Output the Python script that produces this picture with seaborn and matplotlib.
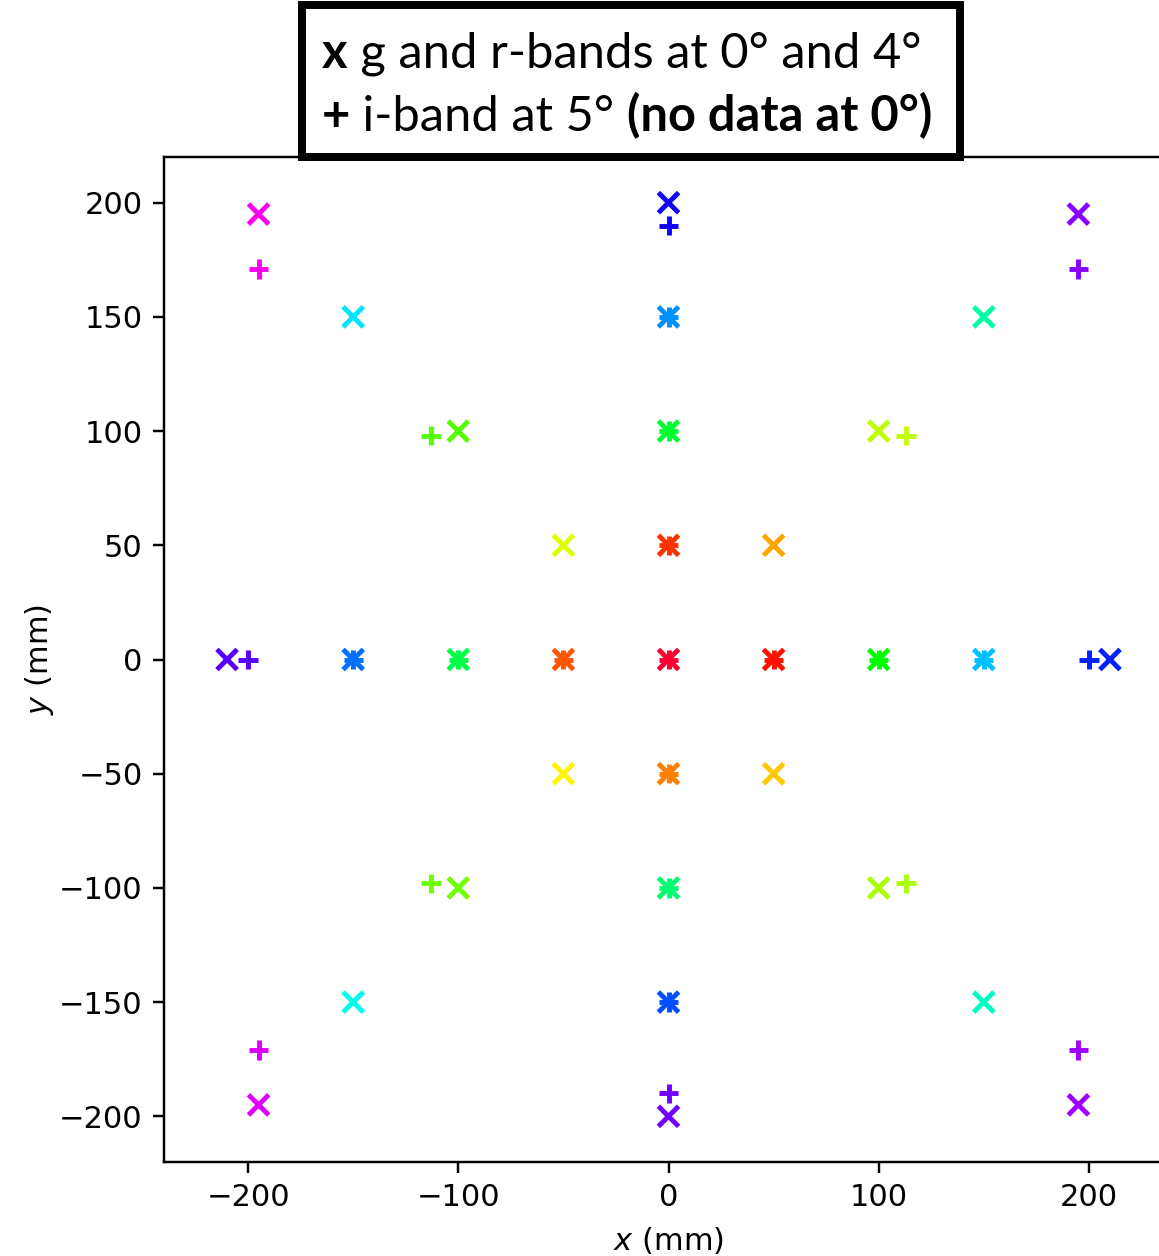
import numpy as np
import pandas as pd
import matplotlib
matplotlib.use("Agg")
import matplotlib.pyplot as plt
import seaborn as sns
from matplotlib.patches import Rectangle

# g/r-band field positions (x markers)
gr_x = [0, 50, 0, -50, 0, 50, 50, -50, -50, 100, 100, -100, -100, 100, 0, -100, 0,
        150, 150, -150, -150, 150, 0, -150, 0, 210, 0, -210, 0, 195, 195, -195, -195]
gr_y = [0, 0, 50, 0, -50, 50, -50, -50, 50, 100, -100, -100, 100, 0, 100, 0, -100,
        150, -150, -150, 150, 0, 150, 0, -150, 0, 200, 0, -200, 195, -195, -195, 195]
# i-band field positions (+ markers)
i_x = [0, 50, 0, -50, 0, None, None, None, None, 113, 113, -113, -113, 100, 0, -100, 0,
       None, None, None, None, 150, 0, -150, 0, 200, 0, -200, 0, 195, 195, -195, -195]
i_y = [0, 0, 50, 0, -50, None, None, None, None, 98, -98, -98, 98, 0, 100, 0, -100,
       None, None, None, None, 0, 150, 0, -150, 0, 190, 0, -190, 171, -171, -171, 171]
field_colors = ["#FF0033", "#FF1000", "#FF3300", "#FF5500", "#FF8000", "#FFA500", "#FFC800",
                "#FFF500", "#DFFF00", "#BFFF00", "#AAFF00", "#70FF00", "#55FF00", "#00FF00",
                "#00FF30", "#00FF45", "#00FF70", "#00FFA0", "#00FFC0", "#00FFEA", "#00E5FF",
                "#00C0FF", "#0090FF", "#0070FF", "#0050FF", "#0020FF", "#1000FF", "#5500FF",
                "#7000FF", "#8800FF", "#A000FF", "#DD00FF", "#FF00EE"]

field_ids = list(range(len(gr_x)))
df_gr = pd.DataFrame({"x": gr_x, "y": gr_y, "field": field_ids})
df_i = pd.DataFrame({"x": i_x, "y": i_y, "field": field_ids}).dropna()
palette = {f: c for f, c in zip(field_ids, field_colors)}

W, H, DPI = 1159, 1256, 220
fig = plt.figure(figsize=(W / DPI, H / DPI), dpi=DPI)
ax = fig.add_axes([164 / W, (H - 1162) / H, (1173 - 164) / W, (1162 - 157) / H])

sns.scatterplot(data=df_gr, x="x", y="y", hue="field", palette=palette, marker="x",
                s=44, linewidth=1.6, legend=False, ax=ax)
sns.scatterplot(data=df_i, x="x", y="y", hue="field", palette=palette, marker="+",
                s=40, linewidth=1.6, legend=False, ax=ax)

ax.set_xlim(-240, 240)
ax.set_ylim(-220, 220)
ax.set_xticks([-200, -100, 0, 100, 200])
ax.set_yticks([-200, -150, -100, -50, 0, 50, 100, 150, 200])
ax.set_xlabel("$x$ (mm)", labelpad=4)
ax.set_ylabel("$y$ (mm)", labelpad=1)

# Title box
box_l, box_r, box_t, box_b = 302, 960, 5, 157
fig.patches.append(Rectangle((box_l / W, (H - box_b) / H), (box_r - box_l) / W,
                             (box_b - box_t) / H, transform=fig.transFigure,
                             fill=True, facecolor="white", edgecolor="black",
                             linewidth=2.6, zorder=10))

fam = ["Lato", "DejaVu Sans"]
fs = 16
renderer = fig.canvas.get_renderer()

def line(pieces, x0, ybase):
    x = x0
    for txt, weight in pieces:
        t = fig.text(x / W, (H - ybase) / H, txt, fontsize=fs, fontweight=weight,
                     family=fam, va="baseline", ha="left", zorder=11)
        bb = t.get_window_extent(renderer=renderer)
        x += bb.width

line([("x", "bold"), (" g and r-bands at 0° and 4°", "normal")], 322, 68)
line([("+", "bold"), (" i-band at 5° ", "normal"), ("(no data at 0°)", "bold")], 322, 131)

fig.savefig("out.png", dpi=DPI)
